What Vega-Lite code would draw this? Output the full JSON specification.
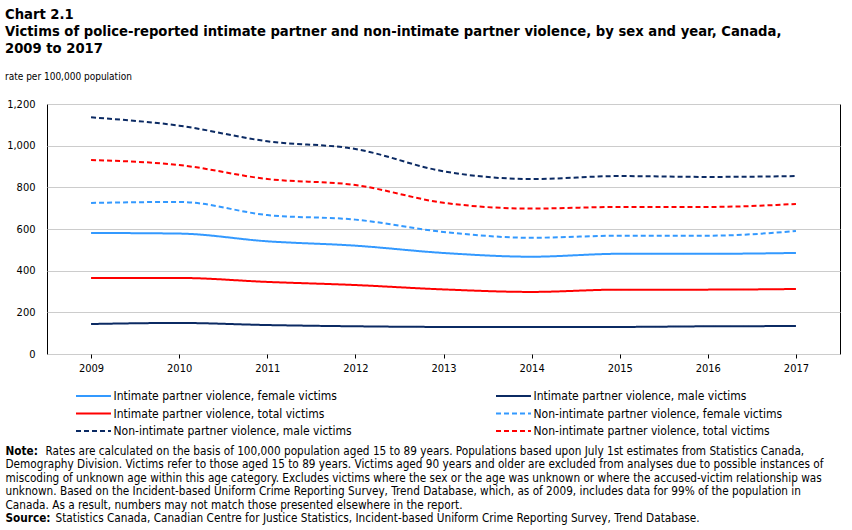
{
  "$schema": "https://vega.github.io/schema/vega-lite/v6.json",
  "width": 793,
  "height": 250,
  "padding": {"left": 5, "top": 7, "right": 5, "bottom": 0},
  "background": "white",
  "title": {
    "text": ["Chart 2.1", "Victims of police-reported intimate partner and non-intimate partner violence, by sex and year, Canada,", "2009 to 2017"],
    "subtitle": "rate per 100,000 population",
    "anchor": "start",
    "frame": "bounds",
    "font": "DejaVu Sans",
    "fontSize": 13.2,
    "fontWeight": "bold",
    "lineHeight": 17,
    "color": "black",
    "subtitleFont": "DejaVu Sans Condensed",
    "subtitleFontSize": 10,
    "subtitleColor": "black",
    "subtitlePadding": 16,
    "offset": 15
  },
  "config": {
    "view": {"stroke": "black", "strokeWidth": 1},
    "axis": {"labelFont": "DejaVu Sans Condensed", "labelFontSize": 11, "labelColor": "black", "titleColor": "black"}
  },
  "data": {
    "values": [
      {"year": "2009", "series": "Intimate partner violence, female victims", "rate": 581},
      {"year": "2010", "series": "Intimate partner violence, female victims", "rate": 578},
      {"year": "2011", "series": "Intimate partner violence, female victims", "rate": 541},
      {"year": "2012", "series": "Intimate partner violence, female victims", "rate": 520},
      {"year": "2013", "series": "Intimate partner violence, female victims", "rate": 485},
      {"year": "2014", "series": "Intimate partner violence, female victims", "rate": 467},
      {"year": "2015", "series": "Intimate partner violence, female victims", "rate": 481},
      {"year": "2016", "series": "Intimate partner violence, female victims", "rate": 481},
      {"year": "2017", "series": "Intimate partner violence, female victims", "rate": 485},
      {"year": "2009", "series": "Intimate partner violence, male victims", "rate": 144},
      {"year": "2010", "series": "Intimate partner violence, male victims", "rate": 149},
      {"year": "2011", "series": "Intimate partner violence, male victims", "rate": 139},
      {"year": "2012", "series": "Intimate partner violence, male victims", "rate": 133},
      {"year": "2013", "series": "Intimate partner violence, male victims", "rate": 130},
      {"year": "2014", "series": "Intimate partner violence, male victims", "rate": 130},
      {"year": "2015", "series": "Intimate partner violence, male victims", "rate": 130},
      {"year": "2016", "series": "Intimate partner violence, male victims", "rate": 133},
      {"year": "2017", "series": "Intimate partner violence, male victims", "rate": 134},
      {"year": "2009", "series": "Intimate partner violence, total victims", "rate": 365},
      {"year": "2010", "series": "Intimate partner violence, total victims", "rate": 365},
      {"year": "2011", "series": "Intimate partner violence, total victims", "rate": 346},
      {"year": "2012", "series": "Intimate partner violence, total victims", "rate": 331},
      {"year": "2013", "series": "Intimate partner violence, total victims", "rate": 310},
      {"year": "2014", "series": "Intimate partner violence, total victims", "rate": 298},
      {"year": "2015", "series": "Intimate partner violence, total victims", "rate": 309},
      {"year": "2016", "series": "Intimate partner violence, total victims", "rate": 309},
      {"year": "2017", "series": "Intimate partner violence, total victims", "rate": 312},
      {"year": "2009", "series": "Non-intimate partner violence, female victims", "rate": 725},
      {"year": "2010", "series": "Non-intimate partner violence, female victims", "rate": 730},
      {"year": "2011", "series": "Non-intimate partner violence, female victims", "rate": 667},
      {"year": "2012", "series": "Non-intimate partner violence, female victims", "rate": 645},
      {"year": "2013", "series": "Non-intimate partner violence, female victims", "rate": 586},
      {"year": "2014", "series": "Non-intimate partner violence, female victims", "rate": 558},
      {"year": "2015", "series": "Non-intimate partner violence, female victims", "rate": 568},
      {"year": "2016", "series": "Non-intimate partner violence, female victims", "rate": 568},
      {"year": "2017", "series": "Non-intimate partner violence, female victims", "rate": 590},
      {"year": "2009", "series": "Non-intimate partner violence, male victims", "rate": 1136},
      {"year": "2010", "series": "Non-intimate partner violence, male victims", "rate": 1096},
      {"year": "2011", "series": "Non-intimate partner violence, male victims", "rate": 1021},
      {"year": "2012", "series": "Non-intimate partner violence, male victims", "rate": 984},
      {"year": "2013", "series": "Non-intimate partner violence, male victims", "rate": 877},
      {"year": "2014", "series": "Non-intimate partner violence, male victims", "rate": 840},
      {"year": "2015", "series": "Non-intimate partner violence, male victims", "rate": 854},
      {"year": "2016", "series": "Non-intimate partner violence, male victims", "rate": 850},
      {"year": "2017", "series": "Non-intimate partner violence, male victims", "rate": 854},
      {"year": "2009", "series": "Non-intimate partner violence, total victims", "rate": 931},
      {"year": "2010", "series": "Non-intimate partner violence, total victims", "rate": 907},
      {"year": "2011", "series": "Non-intimate partner violence, total victims", "rate": 840},
      {"year": "2012", "series": "Non-intimate partner violence, total victims", "rate": 811},
      {"year": "2013", "series": "Non-intimate partner violence, total victims", "rate": 726},
      {"year": "2014", "series": "Non-intimate partner violence, total victims", "rate": 698},
      {"year": "2015", "series": "Non-intimate partner violence, total victims", "rate": 706},
      {"year": "2016", "series": "Non-intimate partner violence, total victims", "rate": 706},
      {"year": "2017", "series": "Non-intimate partner violence, total victims", "rate": 720}
    ]
  },
  "mark": {"type": "line", "interpolate": "monotone", "strokeWidth": 2},
  "encoding": {
    "x": {
      "field": "year",
      "type": "ordinal",
      "scale": {"type": "point", "padding": 0.5},
      "axis": {
        "labelAngle": 0,
        "grid": false,
        "domain": false,
        "ticks": true,
        "tickSize": 4,
        "tickColor": "black",
        "tickWidth": 1,
        "labelPadding": 4,
        "title": ["Note:", "\u200b", "\u200b", "\u200b", "\u200b", "Source:"],
        "titleFont": "DejaVu Sans Condensed",
        "titleFontSize": 11.7,
        "titleFontWeight": "bold",
        "titleLineHeight": 13.5,
        "titleX": -42,
        "titleY": 91,
        "titleAlign": "left",
        "titleAnchor": "start",
        "titleBaseline": "top"
      }
    },
    "y": {
      "field": "rate",
      "type": "quantitative",
      "scale": {"domain": [0, 1200]},
      "axis": {
        "values": [0, 200, 400, 600, 800, 1000, 1200],
        "format": ",.0f",
        "grid": true,
        "gridColor": "#cccccc",
        "domain": false,
        "ticks": false,
        "labelPadding": 12,
        "title": [
          "\u200b\u00a0\u00a0\u00a0\u00a0\u00a0\u00a0\u00a0\u00a0\u00a0\u00a0\u00a0\u00a0Rates are calculated on the basis of 100,000 population aged 15 to 89 years. Populations based upon July 1st estimates from Statistics Canada,",
          "Demography Division. Victims refer to those aged 15 to 89 years. Victims aged 90 years and older are excluded from analyses due to possible instances of",
          "miscoding of unknown age within this age category. Excludes victims where the sex or the age was unknown or where the accused-victim relationship was",
          "unknown. Based on the Incident-based Uniform Crime Reporting Survey, Trend Database, which, as of 2009, includes data for 99% of the population in",
          "Canada. As a result, numbers may not match those presented elsewhere in the report.",
          "\u200b\u00a0\u00a0\u00a0\u00a0\u00a0\u00a0\u00a0\u00a0\u00a0\u00a0\u00a0\u00a0\u00a0\u00a0\u00a0Statistics Canada, Canadian Centre for Justice Statistics, Incident-based Uniform Crime Reporting Survey, Trend Database."
        ],
        "titleFont": "DejaVu Sans Condensed",
        "titleFontSize": 11.7,
        "titleFontWeight": "normal",
        "titleLineHeight": 13.5,
        "titleAngle": 0,
        "titleX": -42,
        "titleY": 341,
        "titleAlign": "left",
        "titleBaseline": "top"
      }
    },
    "color": {
      "field": "series",
      "type": "nominal",
      "scale": {"range": ["#3399ff", "#0b2a63", "#ff0000", "#3399ff", "#0b2a63", "#ff0000"]},
      "legend": {
        "title": null,
        "orient": "none",
        "legendX": 38.5,
        "legendY": 284,
        "columns": 2,
        "direction": "horizontal",
        "columnPadding": 139,
        "rowPadding": 3.5,
        "symbolType": "M-2.5,0H2.5",
        "symbolSize": 196,
        "symbolStrokeWidth": 2,
        "symbolFillColor": "transparent",
        "labelFont": "DejaVu Sans Condensed",
        "labelFontSize": 12,
        "labelColor": "black",
        "labelOffset": 12,
        "labelLimit": 400
      }
    },
    "strokeDash": {
      "field": "series",
      "type": "nominal",
      "scale": {"range": [[1, 0], [1, 0], [1, 0], [5, 3], [5, 3], [5, 3]]}
    }
  }
}
